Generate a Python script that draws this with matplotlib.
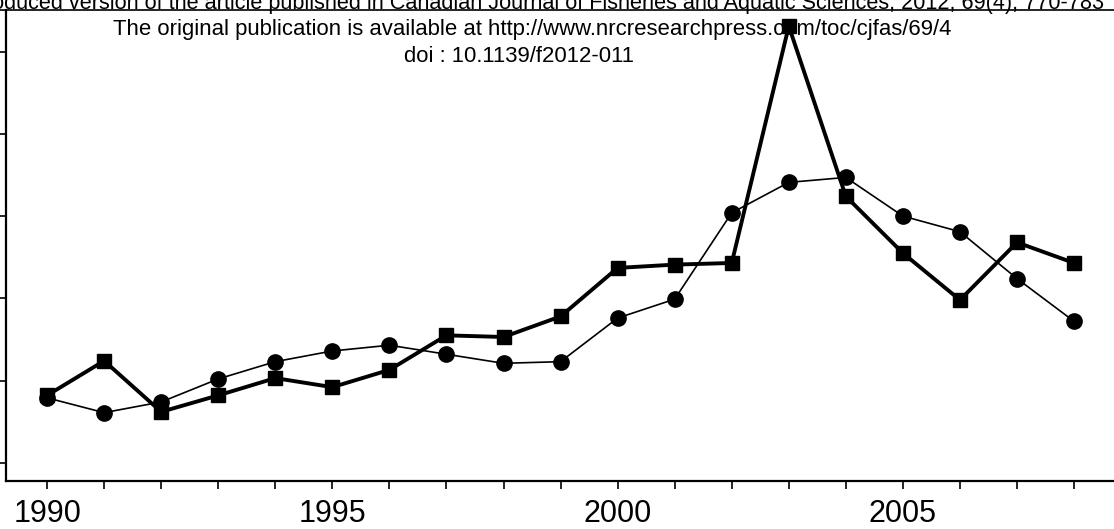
import matplotlib.pyplot as plt
from matplotlib.lines import Line2D

plt.rcParams['font.family'] = ['Liberation Sans', 'DejaVu Sans']

years = list(range(1990, 2009))
squares = [0.82, 1.24, 0.62, 0.82, 1.03, 0.92, 1.13, 1.55, 1.53, 1.78,
           2.37, 2.41, 2.43, 5.31, 3.24, 2.55, 1.98, 2.68, 2.43]
circles = [0.79, 0.61, 0.74, 1.02, 1.23, 1.36, 1.43, 1.32, 1.21, 1.23,
           1.76, 1.99, 3.04, 3.41, 3.47, 3.00, 2.81, 2.24, 1.72]
major_years = [1990, 1995, 2000, 2005]
y_ticks = [0, 1, 2, 3, 4, 5]

header = ("Author-produced version of the article published in Canadian Journal of "
          "Fisheries and Aquatic Sciences, 2012, 69(4), 770-783")
line1 = "The original publication is available at http://www.nrcresearchpress.com/toc/cjfas/69/4"
line2 = "doi : 10.1139/f2012-011"

W, H = 1114, 529
fig = plt.figure(figsize=(W / 100, H / 100), dpi=100)
ax = fig.add_axes([6 / W, 48.5 / H, 1 - 6 / W, 470.5 / H])

ax.plot(years, circles, color='black', lw=1.2, marker='o', ms=11, zorder=3)
ax.plot(years, squares, color='black', lw=2.8, marker='s', ms=10, zorder=4)

ax.set_xlim(1989.28, 2008.70)
ax.set_ylim(-0.215, 5.506)
ax.set_xticks(years, minor=True)
ax.set_xticks(major_years)
ax.set_xticklabels([str(y) for y in major_years], fontsize=22)
ax.set_yticks(y_ticks)
ax.set_yticklabels([])
ax.tick_params(which='both', direction='out', length=6, width=1.2, color='black')
ax.tick_params(axis='x', pad=7)
for side in ['top', 'right']:
    ax.spines[side].set_visible(False)
for side in ['left', 'bottom']:
    ax.spines[side].set_linewidth(1.6)

# header text, cut off at the top and left
fig.text(1104 / W, 1 - 9 / H, header, ha='right', va='baseline', fontsize=15.6)
fig.add_artist(Line2D([0, 1], [1 - 10 / H, 1 - 10 / H], color='black', lw=1.2))
fig.text(532 / W, 1 - 30 / H, line1, ha='center', va='center', fontsize=15.9)
fig.text(519 / W, 1 - 56 / H, line2, ha='center', va='center', fontsize=15.9)

fig.savefig('out.png', dpi=100)
